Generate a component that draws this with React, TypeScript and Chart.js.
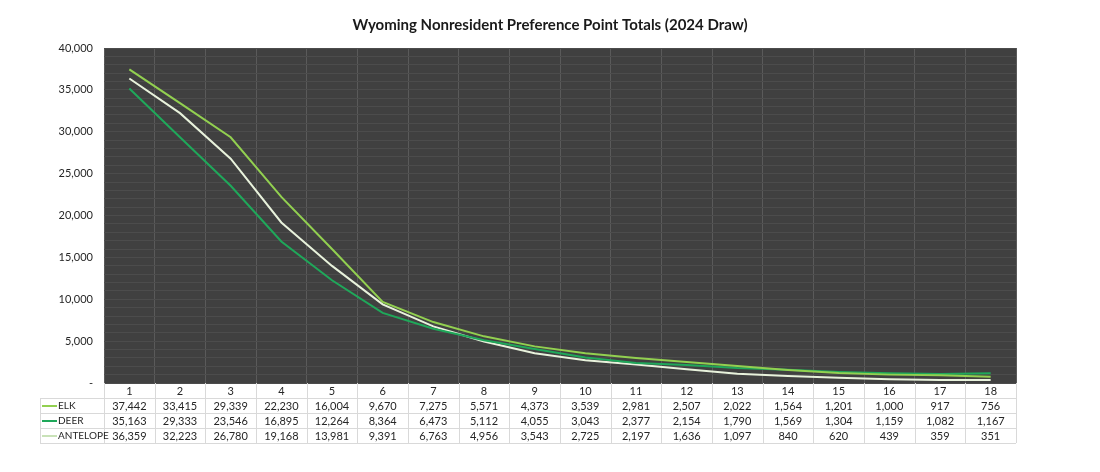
import React, { useEffect, useRef } from 'react';
import { Chart, registerables } from 'chart.js';

Chart.register(...registerables);

const points = ['1', '2', '3', '4', '5', '6', '7', '8', '9', '10', '11', '12', '13', '14', '15', '16', '17', '18'];
const elk = [37442, 33415, 29339, 22230, 16004, 9670, 7275, 5571, 4373, 3539, 2981, 2507, 2022, 1564, 1201, 1000, 917, 756];
const deer = [35163, 29333, 23546, 16895, 12264, 8364, 6473, 5112, 4055, 3043, 2377, 2154, 1790, 1569, 1304, 1159, 1082, 1167];
const antelope = [36359, 32223, 26780, 19168, 13981, 9391, 6763, 4956, 3543, 2725, 2197, 1636, 1097, 840, 620, 439, 359, 351];

const TITLE = 'Wyoming Nonresident Preference Point Totals (2024 Draw)';
const FONT = 'Lato, "Open Sans", sans-serif';

const series = [
  { label: 'ELK', data: elk, color: '#92d050', key: '#92d050' },
  { label: 'DEER', data: deer, color: '#1fa85a', key: '#1fa85a' },
  { label: 'ANTELOPE', data: antelope, color: '#e8f2dc', key: '#c9e2b8' },
];

// plot background, page-centred title and the data table under the plot
const tablePlugin = {
  id: 'dataTable',
  beforeDraw(chart: any) {
    const { ctx, chartArea } = chart;
    ctx.save();
    ctx.fillStyle = '#404040';
    ctx.fillRect(chartArea.left, chartArea.top, chartArea.right - chartArea.left, chartArea.bottom - chartArea.top);
    ctx.fillStyle = '#1a1a1a';
    ctx.font = `bold 15px ${FONT}`;
    ctx.textAlign = 'center';
    ctx.textBaseline = 'middle';
    ctx.fillText(TITLE, chart.width / 2, 25);
    ctx.restore();
  },
  afterDraw(chart: any) {
    const { ctx, chartArea } = chart;
    const x = chart.scales.x;
    const half = (x.getPixelForValue(1) - x.getPixelForValue(0)) / 2;
    const top = chartArea.bottom;
    const rowH = 15;
    const legendLeft = 40;
    const bottom = top + rowH * 4;

    ctx.save();
    ctx.strokeStyle = '#d9d9d9';
    ctx.lineWidth = 1;
    ctx.beginPath();
    for (let r = 1; r <= 4; r++) {
      const y = Math.round(top + r * rowH) + 0.5;
      ctx.moveTo(legendLeft, y);
      ctx.lineTo(chartArea.right, y);
    }
    ctx.moveTo(legendLeft + 0.5, top + rowH);
    ctx.lineTo(legendLeft + 0.5, bottom);
    for (let i = 0; i <= points.length; i++) {
      const bx = Math.round(x.getPixelForValue(i) - half) + 0.5;
      ctx.moveTo(bx, top);
      ctx.lineTo(bx, bottom);
    }
    ctx.stroke();

    ctx.fillStyle = '#262626';
    ctx.textAlign = 'center';
    ctx.textBaseline = 'middle';
    ctx.font = `11px ${FONT}`;
    points.forEach((p, i) => {
      ctx.fillText(p, x.getPixelForValue(i), top + rowH / 2 + 0.5);
    });
    series.forEach((s, r) => {
      const cy = top + rowH * (r + 1) + rowH / 2 + 0.5;
      ctx.font = `11px ${FONT}`;
      ctx.textAlign = 'center';
      s.data.forEach((v, i) => {
        ctx.fillText(v.toLocaleString('en-US'), x.getPixelForValue(i), cy);
      });
      ctx.strokeStyle = s.key;
      ctx.lineWidth = 2;
      ctx.beginPath();
      ctx.moveTo(legendLeft + 2, cy);
      ctx.lineTo(legendLeft + 17, cy);
      ctx.stroke();
      ctx.font = `10px ${FONT}`;
      ctx.textAlign = 'left';
      ctx.fillText(s.label, legendLeft + 18, cy);
    });
    ctx.restore();
  },
};

const PreferencePointChart: React.FC = () => {
  const canvasRef = useRef<HTMLCanvasElement>(null);
  const chartRef = useRef<Chart | null>(null);

  useEffect(() => {
    if (!canvasRef.current) return;
    if (chartRef.current) chartRef.current.destroy();

    chartRef.current = new Chart(canvasRef.current, {
      type: 'line',
      data: {
        labels: points,
        datasets: series.map(s => ({
          label: s.label,
          data: s.data,
          borderColor: s.color,
          backgroundColor: s.color,
          borderWidth: 2,
          pointRadius: 0,
          tension: 0,
          fill: false,
        })),
      },
      options: {
        responsive: true,
        maintainAspectRatio: false,
        animation: false,
        layout: { padding: { left: 0, right: 84, top: 48, bottom: 89 } },
        plugins: {
          legend: { display: false },
          tooltip: { enabled: false },
          title: { display: false },
        },
        scales: {
          x: {
            offset: true,
            grid: { offset: true, color: '#5a5a5a', drawTicks: false },
            border: { display: false },
            ticks: { display: false },
            afterFit: (scale: any) => { scale.height = 0; },
          },
          y: {
            min: 0,
            max: 40000,
            grid: { color: '#4c4c4c', drawTicks: false },
            border: { display: false },
            ticks: {
              stepSize: 1000,
              autoSkip: false,
              padding: 11,
              color: '#262626',
              font: { size: 11, family: FONT },
              callback: (v: any) => {
                const n = v as number;
                if (n === 0) return '-';
                return n % 5000 === 0 ? n.toLocaleString('en-US') : '';
              },
            },
            afterFit: (scale: any) => { scale.width = 104; },
          },
        },
      },
      plugins: [tablePlugin],
    });

    return () => {
      if (chartRef.current) {
        chartRef.current.destroy();
        chartRef.current = null;
      }
    };
  }, []);

  return (
    <div style={{ position: 'absolute', left: 0, top: 0, width: '1100px', height: '472px', background: '#fff' }}>
      <canvas ref={canvasRef}></canvas>
    </div>
  );
};

export default function App() {
  return <PreferencePointChart />;
}
